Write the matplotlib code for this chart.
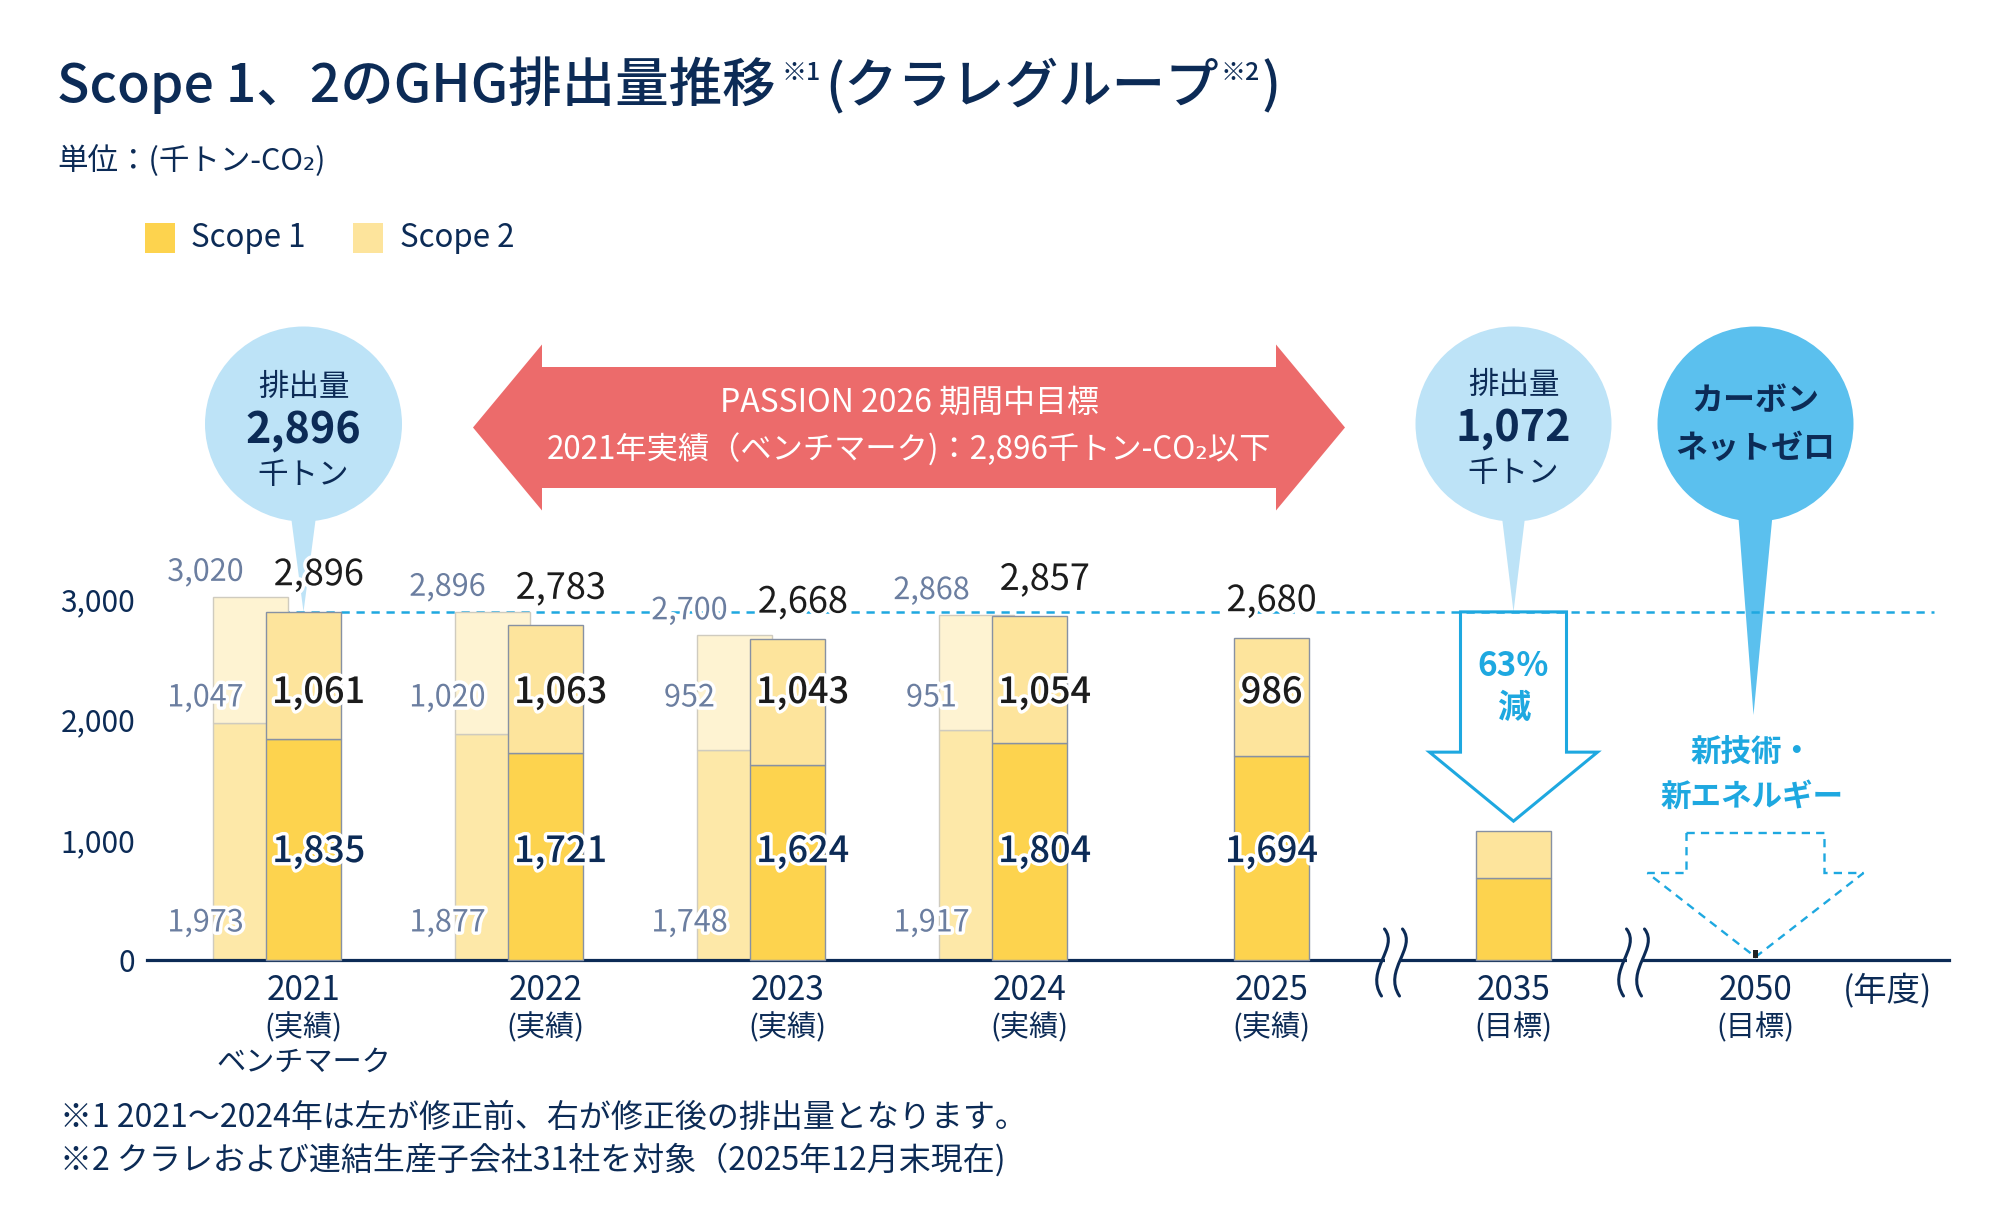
import matplotlib
matplotlib.use('Agg')
import matplotlib.pyplot as plt
from matplotlib.patches import Polygon, Ellipse, Rectangle, PathPatch
from matplotlib.path import Path
import matplotlib.patheffects as pe
import matplotlib.transforms as mtrans
import numpy as np

plt.rcParams['font.family'] = ['Noto Sans CJK JP', 'DejaVu Sans']

# ---------------- data ----------------
years = ['2021', '2022', '2023', '2024', '2025', '2035', '2050']
year_notes = ['(実績)', '(実績)', '(実績)', '(実績)', '(実績)', '(目標)', '(目標)']
benchmark_note = 'ベンチマーク'
scope1 = [1835, 1721, 1624, 1804, 1694, 680]
scope2 = [1061, 1063, 1043, 1054, 986, 392]
totals = [2896, 2783, 2668, 2857, 2680, 1072]
scope1_before = [1973, 1877, 1748, 1917]
scope2_before = [1047, 1020, 952, 951]
totals_before = [3020, 2896, 2700, 2868]
yticks = [0, 1000, 2000, 3000]
ytick_labels = ['0', '1,000', '2,000', '3,000']
legend_labels = ['Scope 1', 'Scope 2']

# ---------------- style ----------------
NAVY = '#0c2b56'
C_S1 = '#fdd34e'
C_S2 = '#fde49c'
C_S1_OLD = '#fde8a8'
C_S2_OLD = '#fef3d2'
EDGE = '#8791a3'
EDGE_OLD = '#cfcbbf'
OLD_TXT = '#6b7ea0'
BLACK = '#1c1c1c'
CYAN = '#1ea8e0'
RED = '#ec6b6b'
BUB_LIGHT = '#bde3f7'
BUB_DARK = '#5bc0ee'

W, H, DPI = 2000, 1214, 100
fig = plt.figure(figsize=(W / DPI, H / DPI), dpi=DPI)
fig.patch.set_facecolor('white')

# overlays in pixel coordinates
back = fig.add_axes([0, 0, 1, 1], zorder=-1)
back.set_xlim(0, W); back.set_ylim(H, 0); back.axis('off')
front = fig.add_axes([0, 0, 1, 1], zorder=5)
front.set_xlim(0, W); front.set_ylim(H, 0); front.axis('off')
front.patch.set_alpha(0)

# main axes
px_per_unit = 0.1202
cat_px = 242.0
ax_left, ax_bottom_px, ax_w = 147, 960, 1802
ymax = 3500
ax = fig.add_axes([ax_left / W, (H - ax_bottom_px) / H, ax_w / W, ymax * px_per_unit / H], zorder=1)
ax.patch.set_alpha(0)
x0 = (ax_left - 303.5) / cat_px
ax.set_xlim(x0, x0 + ax_w / cat_px)
ax.set_ylim(0, ymax)
for s in ['top', 'right', 'left']:
    ax.spines[s].set_visible(False)
ax.spines['bottom'].set_color(NAVY)
ax.spines['bottom'].set_linewidth(2.3)
ax.set_xticks([])
ax.set_yticks(yticks, ytick_labels)
ax.tick_params(axis='y', length=0, pad=8.5, labelsize=21.5, labelcolor=NAVY)

bw = 0.31
off_old = 0.219
x_new = np.arange(len(scope1))
x_old = np.arange(len(scope1_before)) - off_old

ax.bar(x_old, scope1_before, width=bw, color=C_S1_OLD, edgecolor=EDGE_OLD, linewidth=1.0, zorder=2, clip_on=False)
ax.bar(x_old, scope2_before, width=bw, bottom=scope1_before, color=C_S2_OLD, edgecolor=EDGE_OLD, linewidth=1.0, zorder=2, clip_on=False)
ax.bar(x_new, scope1, width=bw, color=C_S1, edgecolor=EDGE, linewidth=1.0, zorder=3, clip_on=False)
ax.bar(x_new, scope2, width=bw, bottom=scope1, color=C_S2, edgecolor=EDGE, linewidth=1.0, zorder=3, clip_on=False)

# dashed reference line at 2021 benchmark
ax.hlines(totals[0], -bw / 2, x0 + (1934 - ax_left) / cat_px, colors=CYAN, linewidth=1.8,
          linestyles=(0, (3.3, 2.7)), zorder=1.5, clip_on=False)

def X(i):
    return ax.transData.transform((i, 0))[0]

def Y(v):
    return H - ax.transData.transform((0, v))[1]

blend = mtrans.blended_transform_factory(ax.transData, back.transData)

# value labels
stroke = [pe.withStroke(linewidth=5, foreground='white')]
lbl_s1_y, lbl_s2_y = 898, 2221
lbl_s1_old_y, lbl_s2_old_y = 308, 2180
for i in range(5):
    has_old = i < len(scope1_before)
    xc = i + (0.063 if has_old else 0.0)
    ax.text(xc, totals[i] + 305, f'{totals[i]:,}', ha='center', va='center', fontsize=26,
            color=BLACK, path_effects=stroke, zorder=6)
    ax.text(xc, lbl_s2_y, f'{scope2[i]:,}', ha='center', va='center', fontsize=26,
            color=BLACK, fontweight='medium', path_effects=stroke, zorder=6)
    ax.text(xc, lbl_s1_y, f'{scope1[i]:,}', ha='center', va='center', fontsize=26,
            color=NAVY, fontweight='medium', path_effects=stroke, zorder=6)
for i in range(len(scope1_before)):
    xc = i - off_old - 0.186
    ax.text(xc, totals_before[i] + 205, f'{totals_before[i]:,}', ha='center', va='center',
            fontsize=22, color=OLD_TXT, path_effects=stroke, zorder=6)
    ax.text(xc, lbl_s2_old_y, f'{scope2_before[i]:,}', ha='center', va='center',
            fontsize=22, color=OLD_TXT, path_effects=stroke, zorder=6)
    ax.text(xc, lbl_s1_old_y, f'{scope1_before[i]:,}', ha='center', va='center',
            fontsize=22, color=OLD_TXT, path_effects=stroke, zorder=6)

# category labels
for i, (yr, nt) in enumerate(zip(years, year_notes)):
    ax.text(i, 991, yr, transform=blend, ha='center', va='center', fontsize=24, color=NAVY)
    ax.text(i, 1028, nt, transform=blend, ha='center', va='center', fontsize=21, color=NAVY)
ax.text(0, 1063, benchmark_note, transform=blend, ha='center', va='center', fontsize=21, color=NAVY)
back.text(1888, 991, '(年度)', ha='center', va='center', fontsize=24, color=NAVY)

# ---------------- decorations ----------------
# bubble 2021
cx = X(0)
back.add_patch(Polygon([(cx - 14, 505), (cx + 14, 505), (cx, Y(totals[0]))], closed=True,
                       facecolor=BUB_LIGHT, edgecolor='none'))
back.add_patch(Ellipse((cx, 424), 197, 195, facecolor=BUB_LIGHT, edgecolor='none'))
back.text(cx, 388, '排出量', ha='center', va='center', fontsize=22, color=NAVY)
back.text(cx, 430, f'{totals[0]:,}', ha='center', va='center', fontsize=31, color=NAVY, fontweight='bold')
back.text(cx, 476, '千トン', ha='center', va='center', fontsize=22, color=NAVY)

# bubble 2035
cx = X(5)
back.add_patch(Polygon([(cx - 13, 505), (cx + 13, 505), (cx, Y(totals[0]))], closed=True,
                       facecolor=BUB_LIGHT, edgecolor='none'))
back.add_patch(Ellipse((cx, 424), 196, 195, facecolor=BUB_LIGHT, edgecolor='none'))
back.text(cx, 386, '排出量', ha='center', va='center', fontsize=22, color=NAVY)
back.text(cx, 428, f'{totals[5]:,}', ha='center', va='center', fontsize=31, color=NAVY, fontweight='bold')
back.text(cx, 473, '千トン', ha='center', va='center', fontsize=22, color=NAVY)

# bubble 2050
cx = X(6)
back.add_patch(Polygon([(cx - 18, 505), (cx + 18, 505), (cx - 2, 715)], closed=True,
                       facecolor=BUB_DARK, edgecolor='none'))
back.add_patch(Ellipse((cx, 424), 196, 195, facecolor=BUB_DARK, edgecolor='none'))
back.text(cx, 401, 'カーボン', ha='center', va='center', fontsize=23, color=NAVY, fontweight='bold')
back.text(cx, 449, 'ネットゼロ', ha='center', va='center', fontsize=23, color=NAVY, fontweight='bold')

# hollow arrow 2035
cx = X(5)
top = Y(totals[0])
tip = Y(totals[5]) - 10
sh = tip - 69
back.add_patch(Polygon([(cx - 53, top), (cx + 53, top), (cx + 53, sh), (cx + 84, sh), (cx, tip),
                        (cx - 84, sh), (cx - 53, sh)], closed=True, facecolor='white',
                       edgecolor=CYAN, linewidth=2.2, joinstyle='miter'))
reduction = round((1 - totals[5] / totals[0]) * 100)
back.text(cx, 667, f'{reduction}%', ha='center', va='center', fontsize=24, color=CYAN, fontweight='bold')
back.text(cx, 708, '減', ha='center', va='center', fontsize=24, color=CYAN, fontweight='bold')

# dashed arrow 2050
cx = X(6)
tip = Y(0) - 3
top = 833
sh = 873
back.add_patch(Polygon([(cx - 69, top), (cx + 69, top), (cx + 69, sh), (cx + 108, sh), (cx, tip),
                        (cx - 108, sh), (cx - 69, sh)], closed=True, facecolor='none',
                       edgecolor=CYAN, linewidth=1.7, linestyle=(0, (3.5, 2.6)), joinstyle='miter'))
back.text(cx - 4, 753, '新技術・', ha='center', va='center', fontsize=22, color=CYAN, fontweight='bold')
back.text(cx - 3, 797, '新エネルギー', ha='center', va='center', fontsize=22, color=CYAN, fontweight='bold')
front.add_patch(Rectangle((cx - 3, Y(0) - 10), 5, 8, facecolor='#222222', edgecolor='none'))

# PASSION double arrow
acx, acy = 909, 427.5
half_len, head_len, head_h, shaft_h = 436, 69, 83, 60.5
back.add_patch(Polygon([
    (acx - half_len, acy), (acx - half_len + head_len, acy - head_h), (acx - half_len + head_len, acy - shaft_h),
    (acx + half_len - head_len, acy - shaft_h), (acx + half_len - head_len, acy - head_h), (acx + half_len, acy),
    (acx + half_len - head_len, acy + head_h), (acx + half_len - head_len, acy + shaft_h),
    (acx - half_len + head_len, acy + shaft_h), (acx - half_len + head_len, acy + head_h)],
    closed=True, facecolor=RED, edgecolor='none'))
back.text(acx, 403, 'PASSION 2026 期間中目標', ha='center', va='center', fontsize=23, color='white')
back.text(acx, 450, f'2021年実績（ベンチマーク)：{totals[0]:,}千トン-CO₂以下', ha='center', va='center',
          fontsize=22.5, color='white')

# axis breaks
def brk(c):
    y0 = Y(0)
    front.add_patch(Rectangle((c - 8, y0 - 4), 16, 8, facecolor='white', edgecolor='none'))
    for dx in (-9, 9):
        xc = c + dx
        verts = [(xc + 1, y0 - 31), (xc + 16, y0 - 12), (xc - 19, y0 + 10), (xc - 2, y0 + 36)]
        front.add_patch(PathPatch(Path(verts, [Path.MOVETO, Path.CURVE4, Path.CURVE4, Path.CURVE4]),
                                  facecolor='none', edgecolor=NAVY, linewidth=2.2, capstyle='round'))

brk((X(4) + X(5)) / 2)
brk((X(5) + X(6)) / 2)

# legend
back.add_patch(Rectangle((145, 223), 30, 30, facecolor=C_S1, edgecolor='none'))
back.text(191, 238, legend_labels[0], ha='left', va='center', fontsize=22.5, color=NAVY)
back.add_patch(Rectangle((353, 223), 30, 30, facecolor=C_S2, edgecolor='none'))
back.text(400, 238, legend_labels[1], ha='left', va='center', fontsize=22.5, color=NAVY)

# title
renderer = fig.canvas.get_renderer()
def put(x, y, s, **kw):
    t = back.text(x, y, s, ha='left', va='baseline', color=NAVY, **kw)
    bb = t.get_window_extent(renderer)
    return bb.x1

xx = put(57, 102, 'Scope 1、2のGHG排出量推移', fontsize=38.5, fontweight='medium')
xx = put(xx + 6, 80, '※1', fontsize=18, fontweight='medium')
xx = put(xx + 4, 102, '(クラレグループ', fontsize=38.5, fontweight='medium')
xx = put(xx + 2, 80, '※2', fontsize=18, fontweight='medium')
xx = put(xx + 2, 102, ')', fontsize=38.5, fontweight='medium')

back.text(57, 161, '単位：(千トン-CO₂)', ha='left', va='center', fontsize=22, color=NAVY)

# footnotes
back.text(60, 1118, '※1 2021～2024年は左が修正前、右が修正後の排出量となります。', ha='left', va='center',
          fontsize=23, color=NAVY)
back.text(60, 1160, '※2 クラレおよび連結生産子会社31社を対象（2025年12月末現在)', ha='left', va='center',
          fontsize=23, color=NAVY)

fig.savefig('out.png', dpi=DPI, facecolor='white')
